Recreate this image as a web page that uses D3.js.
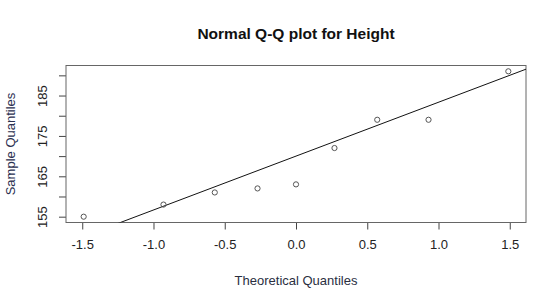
<!DOCTYPE html>
<html lang="en">
<head>
	<meta charset="utf-8">
	<title>Normal Q-Q plot</title>
	<script src="https://d3js.org/d3.v7.min.js"></script>
	<style type="text/css">
		body { margin: 0; background: #fff; }
		text { font-family: "Liberation Sans", Arial, sans-serif; }
	</style>
</head>
<body>
<script type="text/javascript">

	// theoretical quantiles (x) and sorted heights (y)
	var theoretical = [-1.49, -0.93, -0.57, -0.27, 0, 0.27, 0.57, 0.93, 1.49];
	var heights = [155, 158, 161, 162, 163, 172, 179, 179, 191];

	// reference line through the quartiles
	var lineIntercept = 170;
	var lineSlope = 13.34;

	var xTicks = [-1.5, -1.0, -0.5, 0.0, 0.5, 1.0, 1.5];
	var yTicks = [155, 160, 165, 170, 175, 180, 185, 190];
	var yLabels = [155, 165, 175, 185];

	var w = 560, h = 305;
	var plotLeft = 66, plotRight = 526, plotTop = 65.5, plotBottom = 222.5;

	var xScale = d3.scaleLinear().domain([-1.614, 1.614]).range([plotLeft, plotRight]);
	var yScale = d3.scaleLinear().domain([153.56, 192.44]).range([plotBottom, plotTop]);

	var svg = d3.select("body").append("svg")
		.attr("width", w)
		.attr("height", h);

	// clip for the qq line
	svg.append("clipPath").attr("id", "plotclip")
		.append("rect")
		.attr("x", plotLeft).attr("y", plotTop)
		.attr("width", plotRight - plotLeft).attr("height", plotBottom - plotTop);

	// x axis
	var xAxis = d3.axisBottom(xScale)
		.tickValues(xTicks)
		.tickSize(7)
		.tickPadding(10)
		.tickFormat(function (d) { return d3.format(".1f")(d).replace("−", "-"); });
	var gx = svg.append("g")
		.attr("transform", "translate(0," + plotBottom + ")")
		.call(xAxis);
	gx.select(".domain").remove();
	gx.selectAll("line").attr("stroke", "#444");
	gx.selectAll("text")
		.attr("font-size", "13px")
		.attr("fill", "#222");

	// y axis
	var yAxis = d3.axisLeft(yScale)
		.tickValues(yTicks)
		.tickSize(7)
		.tickFormat(function (d) { return yLabels.indexOf(d) >= 0 ? d : ""; });
	var gy = svg.append("g")
		.attr("transform", "translate(" + plotLeft + ",0)")
		.call(yAxis);
	gy.select(".domain").remove();
	gy.selectAll("line").attr("stroke", "#444");
	gy.selectAll("text")
		.attr("font-size", "13px")
		.attr("fill", "#222")
		.attr("x", null)
		.attr("dy", null)
		.attr("text-anchor", "middle")
		.attr("transform", "translate(-19,0) rotate(-90)");

	// plot box
	svg.append("rect")
		.attr("x", plotLeft).attr("y", plotTop)
		.attr("width", plotRight - plotLeft).attr("height", plotBottom - plotTop)
		.attr("fill", "none")
		.attr("stroke", "#666")
		.attr("stroke-width", 1);

	// qq line
	var x0 = -2, x1 = 2;
	svg.append("line")
		.attr("clip-path", "url(#plotclip)")
		.attr("x1", xScale(x0))
		.attr("y1", yScale(lineIntercept + lineSlope * x0))
		.attr("x2", xScale(x1))
		.attr("y2", yScale(lineIntercept + lineSlope * x1))
		.attr("stroke", "#111")
		.attr("stroke-width", 1);

	// points
	svg.selectAll("circle")
		.data(heights)
		.enter()
		.append("circle")
		.attr("cx", function (d, i) { return xScale(theoretical[i]); })
		.attr("cy", function (d) { return yScale(d); })
		.attr("r", 2.6)
		.attr("fill", "none")
		.attr("stroke", "#555")
		.attr("stroke-width", 1);

	// titles
	svg.append("text")
		.attr("x", (plotLeft + plotRight) / 2)
		.attr("y", 39)
		.attr("text-anchor", "middle")
		.attr("font-size", "15.5px")
		.attr("font-weight", "bold")
		.attr("fill", "#111")
		.text("Normal Q-Q plot for Height");

	svg.append("text")
		.attr("x", (plotLeft + plotRight) / 2)
		.attr("y", 285)
		.attr("text-anchor", "middle")
		.attr("font-size", "13px")
		.attr("fill", "#2a2f3f")
		.text("Theoretical Quantiles");

	svg.append("text")
		.attr("transform", "translate(15," + ((plotTop + plotBottom) / 2) + ") rotate(-90)")
		.attr("text-anchor", "middle")
		.attr("font-size", "13px")
		.attr("fill", "#2a2f4f")
		.text("Sample Quantiles");

</script>
</body>
</html>
